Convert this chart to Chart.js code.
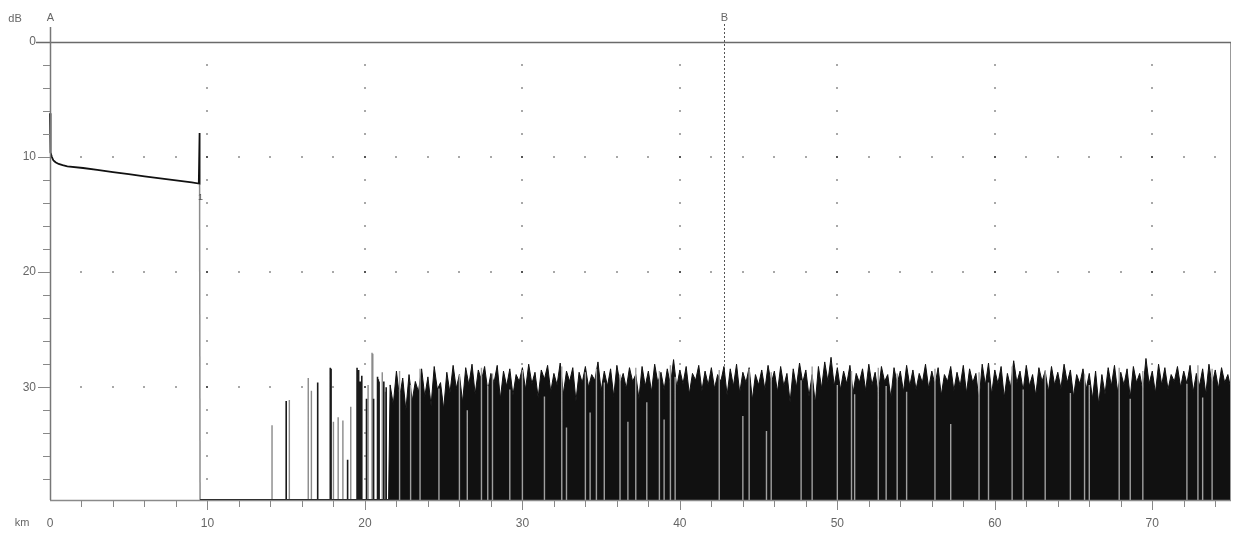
<!DOCTYPE html>
<html>
<head>
<meta charset="utf-8">
<script src="https://cdn.jsdelivr.net/npm/chart.js@4/dist/chart.umd.min.js"></script>
<style>
  html, body { margin: 0; padding: 0; background: #fff; }
  #wrap { width: 1235px; height: 533px; position: relative; }
</style>
</head>
<body>
<div id="wrap"><canvas id="c"></canvas></div>
<script>
// ---- axis settings ----
const xMin = 0, xMax = 75;
const yMin = 0, yMax = 39.8;
const xLabels = [0, 10, 20, 30, 40, 50, 60, 70];
const yLabels = [0, 10, 20, 30];

// ---- markers ----
const markerA = 0;
const markerB = 42.8;

// ---- fibre trace (km, dB) ----
const traceKm = [0, 0.01, 0.03, 0.06, 0.12, 0.22, 0.35, 0.55, 0.8, 1.1, 2.1, 3, 4, 5, 6, 7, 8, 9, 9.45, 9.5, 9.5, 9.53, 75];
const traceDb = [6.2, 7.8, 8.9, 9.6, 10.0, 10.3, 10.45, 10.6, 10.7, 10.8, 10.95, 11.12, 11.3, 11.48, 11.67, 11.85, 12.03, 12.2, 12.3, 7.9, 12.4, 39.8, 39.8];

// ---- sparse noise spikes after fibre end ----
const sparseDarkKm = [15.0, 17.0, 17.8, 17.85, 18.9, 19.5, 19.55, 19.6, 19.7, 19.8, 20.1, 20.55, 20.8, 20.85, 20.9, 21.2, 21.35];
const sparseDarkDb = [31.2, 29.6, 28.3, 28.4, 36.3, 28.3, 28.6, 28.5, 29.5, 29.0, 31.0, 31.0, 29.1, 29.3, 29.5, 29.5, 30.0];
const sparseGrayKm = [14.1, 15.2, 16.4, 16.6, 18.0, 18.3, 18.6, 19.1, 20.2, 20.45, 20.5, 21.1, 21.3];
const sparseGrayDb = [33.3, 31.1, 29.2, 30.3, 33.0, 32.6, 32.9, 31.7, 29.8, 27.0, 27.1, 28.7, 30.4];

// ---- dense noise floor: samples every 0.2 km from 21.6 km ----
const noiseStartKm = 21.6;
const noiseStepKm = 0.2;
const noiseDb = [
  29.8, 31.5, 28.6, 30.9, 29.2, 32.0, 28.9, 31.2, 29.5, 30.4,
  28.4, 30.8, 29.1, 31.6, 28.2, 30.2, 29.6, 31.9, 28.7, 30.5,
  28.1, 30.1, 28.9, 31.3, 28.3, 29.8, 28.0, 30.6, 28.5, 29.4,
  28.2, 30.3, 28.8, 29.6, 28.1, 31.0, 28.6, 29.9, 28.4, 30.7,
  28.9, 29.5, 28.3, 30.2, 28.0, 29.7, 28.7, 30.9, 28.5, 29.3,
  28.1, 30.4, 28.8, 29.8, 27.9, 30.6, 28.6, 29.5, 28.3, 31.2,
  28.7, 29.6, 28.2, 30.0, 28.9, 29.4, 27.8, 30.3, 28.6, 29.9,
  28.4, 30.8, 28.1, 29.7, 28.8, 30.1, 28.3, 29.5, 28.9, 31.0,
  28.2, 29.9, 28.6, 30.4, 28.0, 29.6, 28.7, 30.2, 28.4, 29.8,
  27.6, 30.0, 28.5, 29.7, 28.2, 30.6, 28.8, 29.4, 28.1, 30.3,
  28.6, 29.8, 28.3, 30.1, 28.9, 29.5, 28.2, 30.7, 28.4, 29.9,
  28.0, 30.5, 28.7, 29.6, 28.3, 31.1, 28.9, 29.8, 28.5, 30.2,
  28.1, 29.7, 28.6, 30.4, 28.2, 29.9, 28.8, 31.3, 28.4, 30.0,
  27.9, 29.6, 28.5, 30.8, 28.9, 31.4, 28.2, 30.1, 27.8, 29.5,
  27.4, 29.9, 28.3, 30.2, 28.6, 29.7, 28.1, 30.5, 28.8, 29.6,
  28.4, 30.3, 28.0, 29.8, 28.7, 30.6, 28.2, 29.5, 28.9, 30.9,
  28.3, 29.7, 28.6, 30.4, 28.1, 29.9, 28.5, 30.2, 28.8, 29.6,
  28.0, 30.1, 28.6, 29.8, 28.3, 30.7, 28.9, 29.5, 28.2, 30.3,
  28.7, 29.9, 28.1, 30.5, 28.4, 29.6, 28.8, 31.2, 28.0, 29.8,
  27.9, 30.6, 28.5, 29.7, 28.2, 30.9, 28.8, 30.0, 27.7, 29.6,
  28.6, 30.3, 28.1, 29.9, 28.9, 30.7, 28.3, 29.5, 28.6, 30.4,
  28.2, 29.8, 28.7, 30.1, 28.0, 29.6, 28.5, 30.8, 28.9, 29.7,
  28.4, 30.2, 28.8, 31.0, 28.6, 31.5, 28.9, 30.6, 28.3, 29.9,
  28.1, 30.4, 28.7, 29.8, 28.4, 30.9, 28.2, 29.6, 28.8, 30.3,
  27.5, 29.7, 28.6, 30.5, 28.0, 29.8, 28.3, 30.2, 28.9, 29.5,
  28.2, 30.0, 28.6, 29.7, 28.1, 30.4, 28.8, 29.9, 28.4, 30.6,
  28.0, 29.8, 28.5, 30.1, 28.3, 29.6, 28.9, 30.2
];

// ---- light dropouts inside the noise floor ----
const gapKm = [22.2, 22.9, 23.5, 24.7, 26.0, 26.5, 27.4, 27.8, 28.1, 29.2,
  30.0, 31.4, 32.5, 32.8, 34.0, 34.3, 34.7, 35.2, 36.2, 36.7,
  37.2, 37.9, 38.7, 39.0, 39.4, 39.7, 42.5, 44.0, 44.4, 45.5,
  45.8, 47.7, 48.4, 50.0, 50.9, 51.1, 52.6, 53.1, 53.8, 54.4,
  56.2, 57.2, 59.0, 59.6, 61.1, 61.8, 63.2, 64.8, 65.7, 66.0,
  67.9, 68.6, 69.4, 72.2, 72.9, 73.2, 73.8];
const gapTopDb = [28.6, 29.8, 28.4, 30.1, 28.9, 32.0, 28.3, 29.9, 28.8, 30.2,
  28.5, 30.8, 28.2, 33.5, 28.7, 32.2, 28.4, 29.6, 28.9, 33.0,
  28.3, 31.3, 28.6, 32.8, 28.1, 29.1, 28.5, 32.5, 28.4, 33.8,
  28.7, 29.4, 28.2, 29.8, 28.6, 30.6, 28.3, 29.9, 28.8, 30.4,
  28.4, 33.2, 28.7, 29.6, 28.2, 30.2, 28.5, 30.5, 28.9, 29.8,
  28.3, 31.0, 28.6, 29.7, 28.1, 30.9, 28.4];

// ---- build datasets from the arrays ----
const tracePts = traceKm.map((k, i) => ({ x: k, y: traceDb[i] }));
const noisePts = [{ x: noiseStartKm - 0.1, y: yMax }].concat(
  noiseDb.map((v, i) => ({ x: +(noiseStartKm + i * noiseStepKm).toFixed(2), y: v })));
function vSegments(kms, tops) {
  const out = [];
  kms.forEach((k, i) => { out.push({ x: k, y: tops[i] }, { x: k, y: yMax }, { x: k, y: null }); });
  return out;
}

const FONT = "'Liberation Sans', Arial, sans-serif";
const TXT = '#666';

const decor = {
  id: 'decor',
  beforeDatasetsDraw(chart) {
    const { ctx, chartArea: a, scales: { x, y } } = chart;
    ctx.save();
    // dotted grid: dots every 2 units along the major lines
    for (const gx of xLabels) {
      if (gx === xMin) continue;
      const px = Math.round(x.getPixelForValue(gx));
      for (let v = 2; v < yMax; v += 2) {
        const py = Math.round(y.getPixelForValue(v));
        const major = yLabels.includes(v);
        ctx.fillStyle = major ? '#555' : '#a8a8a8';
        ctx.fillRect(px - 1, py - 1, 2, 2);
      }
    }
    for (const gy of yLabels) {
      if (gy === yMin) continue;
      const py = Math.round(y.getPixelForValue(gy));
      for (let v = 2; v < xMax; v += 2) {
        if (xLabels.includes(v)) continue;
        const px = Math.round(x.getPixelForValue(v));
        ctx.fillStyle = '#a8a8a8';
        ctx.fillRect(px - 1, py - 1, 2, 2);
      }
    }
    // marker B (dashed)
    const bx = Math.round(x.getPixelForValue(markerB)) + 0.5;
    ctx.strokeStyle = '#555';
    ctx.lineWidth = 1;
    ctx.setLineDash([2, 2]);
    ctx.beginPath(); ctx.moveTo(bx, 24); ctx.lineTo(bx, a.bottom); ctx.stroke();
    ctx.setLineDash([]);
    ctx.restore();
  },
  afterDatasetsDraw(chart) {
    const { ctx, chartArea: a, scales: { x, y } } = chart;
    ctx.save();
    // frame
    ctx.lineWidth = 1;
    ctx.strokeStyle = '#999';
    ctx.beginPath();
    ctx.moveTo(a.right - 0.5, a.top); ctx.lineTo(a.right - 0.5, a.bottom);
    ctx.stroke();
    ctx.strokeStyle = '#8a8a8a';
    ctx.lineWidth = 1.5;
    ctx.beginPath(); ctx.moveTo(a.left, a.bottom + 0.5); ctx.lineTo(a.right, a.bottom + 0.5); ctx.stroke();
    ctx.strokeStyle = '#6a6a6a';
    ctx.lineWidth = 1.5;
    ctx.beginPath(); ctx.moveTo(a.left - 14, a.top + 0.5); ctx.lineTo(a.right, a.top + 0.5); ctx.stroke();
    // left axis (marker A)
    const ax = Math.round(x.getPixelForValue(markerA)) + 0.5;
    const bx = Math.round(x.getPixelForValue(markerB)) + 0.5;
    ctx.strokeStyle = '#777';
    ctx.beginPath(); ctx.moveTo(ax, 27); ctx.lineTo(ax, a.bottom); ctx.stroke();
    // y tick marks
    ctx.lineWidth = 1;
    ctx.strokeStyle = '#888';
    for (let v = 2; v < yMax; v += 2) {
      const py = Math.round(y.getPixelForValue(v)) + 0.5;
      const len = yLabels.includes(v) ? 12 : 7;
      ctx.beginPath(); ctx.moveTo(a.left - len, py); ctx.lineTo(a.left, py); ctx.stroke();
    }
    // x tick marks
    for (let v = 2; v < xMax; v += 2) {
      const px = Math.round(x.getPixelForValue(v)) + 0.5;
      const len = xLabels.includes(v) ? 10 : 7;
      ctx.beginPath(); ctx.moveTo(px, a.bottom); ctx.lineTo(px, a.bottom + len); ctx.stroke();
    }
    // texts
    ctx.fillStyle = TXT;
    ctx.font = '11px ' + FONT;
    ctx.textBaseline = 'middle';
    ctx.textAlign = 'center';
    ctx.fillText('dB', 15, 19);
    ctx.fillText('A', ax, 18);
    ctx.fillText('B', bx, 18);
    ctx.fillText('km', 22, 523);
    // small event marker under the reflection
    ctx.font = '9px ' + FONT;
    ctx.fillStyle = '#555';
    ctx.fillText('1', x.getPixelForValue(9.55), y.getPixelForValue(13.5));
    ctx.restore();
  }
};

const ctx = document.getElementById('c');
new Chart(ctx, {
  type: 'line',
  data: {
    datasets: [
      {
        label: 'dropouts',
        data: vSegments(gapKm, gapTopDb),
        borderColor: '#a0a0a0',
        borderWidth: 1.4,
        pointRadius: 0,
        spanGaps: false,
        order: 0
      },
      {
        label: 'trace',
        data: tracePts,
        borderColor: '#111',
        borderWidth: 1.8,
        pointRadius: 0,
        tension: 0,
        clip: 4,
        segment: {
          borderColor: c => (c.p0.parsed.y < 30 && c.p1.parsed.y > 39) ? '#8c8c8c' : '#111',
          borderWidth: c => (c.p0.parsed.y < 30 && c.p1.parsed.y > 39) ? 1.5 : 1.8
        },
        order: 1
      },
      {
        label: 'sparse dark',
        data: vSegments(sparseDarkKm, sparseDarkDb),
        borderColor: '#1a1a1a',
        borderWidth: 1.6,
        pointRadius: 0,
        spanGaps: false,
        order: 2
      },
      {
        label: 'sparse gray',
        data: vSegments(sparseGrayKm, sparseGrayDb),
        borderColor: '#8a8a8a',
        borderWidth: 1.4,
        pointRadius: 0,
        spanGaps: false,
        order: 3
      },
      {
        label: 'noise',
        data: noisePts,
        borderColor: '#111',
        backgroundColor: '#111',
        borderWidth: 1,
        pointRadius: 0,
        tension: 0,
        fill: { value: yMax },
        order: 4
      }
    ]
  },
  options: {
    responsive: true,
    maintainAspectRatio: false,
    animation: false,
    devicePixelRatio: 1,
    layout: { padding: { top: 42, right: 4, left: 0, bottom: 0 } },
    plugins: { legend: { display: false }, tooltip: { enabled: false } },
    elements: { line: { borderJoinStyle: 'miter' } },
    scales: {
      x: {
        type: 'linear',
        min: xMin, max: xMax,
        border: { display: false },
        grid: { display: false, drawTicks: false },
        afterFit: s => { s.height = 33; s.paddingRight = 0; s.paddingLeft = 0; },
        afterBuildTicks: s => { s.ticks = xLabels.map(v => ({ value: v })); },
        ticks: {
          autoSkip: false,
          maxRotation: 0,
          padding: 16,
          color: TXT,
          font: { family: FONT, size: 12 }
        }
      },
      y: {
        type: 'linear',
        min: yMin, max: yMax,
        reverse: true,
        border: { display: false },
        grid: { display: false, drawTicks: false },
        afterFit: s => { s.width = 50; s.paddingTop = 0; s.paddingBottom = 0; },
        afterBuildTicks: s => { s.ticks = yLabels.map(v => ({ value: v })); },
        ticks: {
          autoSkip: false,
          padding: 14,
          color: TXT,
          font: { family: FONT, size: 12 }
        }
      }
    }
  },
  plugins: [decor]
});
</script>
</body>
</html>
